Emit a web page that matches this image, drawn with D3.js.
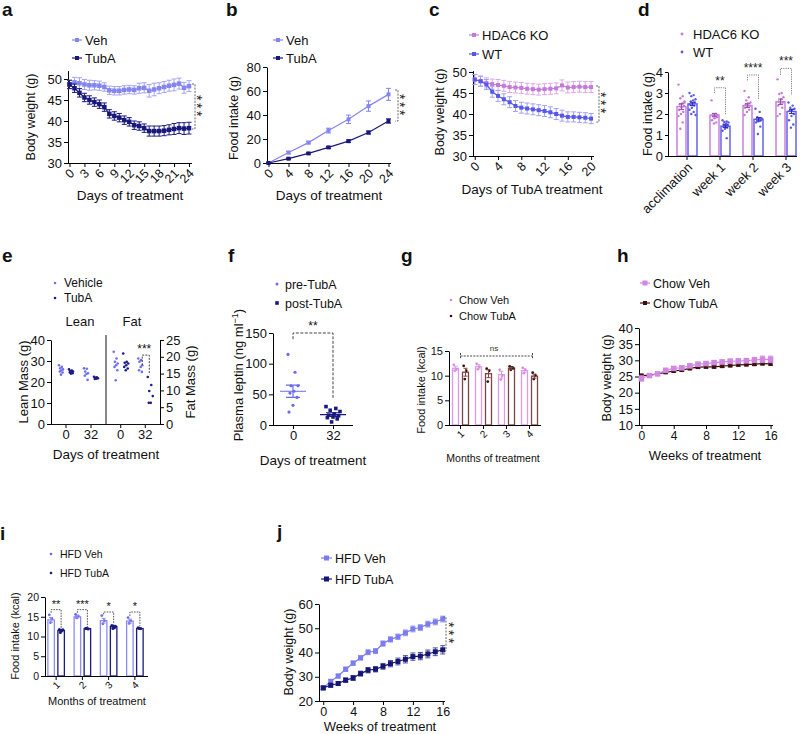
<!DOCTYPE html>
<html><head><meta charset="utf-8">
<script src="https://cdn.jsdelivr.net/npm/d3@7"></script>
<style>body{margin:0;background:#fff}svg{display:block}</style>
</head><body>
<script>
// ================= DATA =================
// a
const aDays = [0,1,2,3,4,5,6,7,8,9,10,11,12,13,14,15,16,17,18,19,20,21,22,23,24];
const aVeh = [48.7,49.2,49.0,48.7,48.5,48.5,48.4,48.1,47.3,47.2,47.2,47.4,47.5,47.4,47.8,47.9,47.2,47.5,47.8,48.1,48.4,48.6,48.9,47.9,48.3];
const aVehErr = [1.0,1.2,1.3,1.2,1.2,1.1,1.1,1.0,1.0,1.0,1.0,1.0,1.0,1.0,1.2,1.2,1.5,1.5,1.3,1.3,1.3,1.4,1.3,1.3,1.3];
const aTub = [48.7,47.8,46.7,45.6,45.0,44.5,44.0,43.3,41.7,41.2,40.8,40.2,39.8,39.0,38.8,38.3,37.6,37.6,37.6,37.7,37.9,38.1,38.3,38.2,38.3];
const aTubErr = [1.0,1.0,1.0,1.0,1.0,1.0,1.0,1.0,1.0,1.0,1.0,1.0,1.0,1.0,1.0,1.0,1.2,1.2,1.2,1.2,1.2,1.3,1.3,1.4,1.4];
const aXTicks = [0,3,6,9,12,15,18,21,24];
const aYTicks = [30,35,40,45,50];
// b
const bDays = [0,4,8,12,16,20,24];
const bVeh = [0,8.7,17,27,36.4,47.4,57.2];
const bVehErr = [0.3,1.0,1.0,2.0,3.5,4.3,5.0];
const bTub = [0,3.6,8,13,18.2,25.4,35];
const bTubErr = [0.2,0.5,0.6,0.8,1.0,1.2,1.8];
const bXTicks = [0,4,8,12,16,20,24];
const bYTicks = [0,20,40,60,80];
// c
const cDays = [0,1,2,3,4,5,6,7,8,9,10,11,12,13,14,15,16,17,18,19,20];
const cKO = [48.2,47.8,47.4,47.1,46.9,46.7,46.4,46.3,46.2,46.0,45.9,45.8,45.9,46.0,46.1,46.8,46.3,46.4,46.5,46.4,46.4];
const cKOErr = [1.2,1.2,1.2,1.2,1.3,1.3,1.3,1.3,1.3,1.3,1.3,1.3,1.3,1.3,1.3,1.3,1.3,1.3,1.3,1.3,1.3];
const cWT = [48.2,47.8,47.0,45.3,44.3,43.5,42.8,41.9,41.5,41.3,41.1,40.9,40.7,40.4,40.0,39.6,39.3,39.3,39.2,39.1,38.9];
const cWTErr = [1.2,1.2,1.2,1.3,1.3,1.3,1.3,1.3,1.3,1.3,1.3,1.3,1.3,1.3,1.3,1.3,1.2,1.2,1.2,1.2,1.2];
const cXTicks = [0,4,8,12,16,20];
const cYTicks = [30,35,40,45,50];
// d
const dGroups = ["acclimation","week 1","week 2","week 3"];
const dKO = [2.35,1.95,2.40,2.58];
const dKOErr = [0.14,0.08,0.09,0.13];
const dWT = [2.48,1.42,1.75,2.12];
const dWTErr = [0.08,0.06,0.08,0.10];
const dKOPts = [
  [3.4,2.85,2.75,2.6,2.5,2.45,2.4,2.3,2.2,2.1,2.0,1.9,1.6,1.3,2.55],
  [2.65,2.0,1.98,1.95,1.92,1.9,1.85,1.8,1.7,1.6,1.55],
  [3.1,2.8,2.65,2.55,2.5,2.45,2.4,2.35,2.3,2.2,2.1,1.95],
  [3.65,3.0,2.95,2.8,2.7,2.6,2.55,2.5,2.4,2.3,2.0,1.9]
];
const dWTPts = [
  [3.0,2.9,2.85,2.7,2.65,2.6,2.55,2.5,2.45,2.4,2.3,2.2,2.1,2.0,1.95],
  [1.7,1.65,1.62,1.6,1.55,1.5,1.48,1.45,1.4,1.35,1.3,1.2,0.85],
  [2.25,2.1,1.85,1.8,1.78,1.75,1.7,1.65,1.6,1.4,1.05],
  [2.55,2.4,2.3,2.25,2.2,2.15,2.0,1.9,1.7,1.5,1.35]
];
const dYTicks = [0,1,2,3,4];
const dSig = [
  {g:"week 1", label:"**",   top:3.25, l:3.0,  r:1.95},
  {g:"week 2", label:"****", top:3.86, l:3.6,  r:2.67},
  {g:"week 3", label:"***",  top:4.17, l:3.86, r:2.9}
];
// e
const eDays = ["0","32"];
const eLeanVeh = [[28,27.2,26.5,26,25.5,25,24.5,23.5],[26.5,26.3,25,24.2,23.8,23,21]];
const eLeanTub = [[26,25.5,25.2,25,24.8,24.5,24.2,24],[22.5,22.2,22,21.8,21.6,21.4]];
const eFatVeh = [[21.5,19.5,18.5,18,17.5,17,16,13],[19.5,19,18.5,17.5,17,16,15.5]];
const eFatTub = [[21,18.5,18.2,18,17.5,17,16.5,16],[14,11.6,9.8,8.3,6.3,6.3]];
const eLeanTicks = [0,10,20,30,40];
const eFatTicks = [0,5,10,15,20,25];
// f
const fDays = ["0","32"];
const fPre = [115,86,64,64,55,52,45,32,21];
const fPost = [30,27,24,22,18,16,15,13,12,10,5];
const fMean = [55,17];
const fSem = [10,3];
const fYTicks = [0,50,100,150];
// g
const gMonths = ["1","2","3","4"];
const gVeh = [11.5,11.8,10.2,11.0];
const gVehErr = [0.4,0.4,0.7,0.4];
const gTub = [10.7,10.4,11.5,9.9];
const gTubErr = [0.8,0.8,0.2,0.4];
const gVehPts = [[12.2,11.3,11.0],[12.4,11.8,11.3],[11.2,10.0,9.2],[11.6,11.2,10.5]];
const gTubPts = [[12.0,11.0,9.3],[11.4,11.0,8.8],[11.9,11.7,11.2,11.5],[10.6,10.1,9.3]];
const gYTicks = [0,5,10,15];
// h
const hWeeks = [0,1,2,3,4,5,6,7,8,9,10,11,12,13,14,15,16];
const hVeh = [24.4,25.3,25.8,26.9,27.5,27.7,28.3,28.8,29.0,29.3,29.5,29.7,29.8,29.9,30.1,30.3,30.3];
const hVehErr = [0.8,0.5,0.5,0.6,0.6,0.6,0.6,0.6,0.6,0.6,0.6,0.7,0.7,0.7,0.8,1.0,1.0];
const hTub = [25.3,25.4,25.8,26.3,26.7,27.0,27.5,27.9,28.0,28.0,28.2,28.4,28.6,28.7,28.8,29.0,28.9];
const hTubErr = [0.4,0.4,0.4,0.4,0.4,0.4,0.4,0.4,0.4,0.4,0.4,0.4,0.4,0.4,0.4,0.4,0.4];
const hXTicks = [0,4,8,12,16];
const hYTicks = [10,15,20,25,30,35,40];
// i
const iMonths = ["1","2","3","4"];
const iVeh = [14.2,15.0,14.0,13.9];
const iVehErr = [0.6,0.3,0.6,0.5];
const iTub = [11.5,12.0,12.5,12.0];
const iTubErr = [0.3,0.1,0.3,0.1];
const iVehPts = [[15.5,14.5,13.5],[15.6,15.2,14.7],[15.3,14.0,13.2],[14.8,14.0,13.3]];
const iTubPts = [[11.8,11.5,11.0,11.7],[12.0,11.9,12.1],[12.8,12.2,12.0,12.6],[12.2,12.0,12.1]];
const iYTicks = [0,5,10,15,20];
const iSig = [
  {g:"1", label:"**",  top:16.8, l:16.0, r:12.2},
  {g:"2", label:"***", top:16.8, l:16.0, r:12.4},
  {g:"3", label:"*",   top:16.2, l:15.6, r:13.0},
  {g:"4", label:"*",   top:16.2, l:15.2, r:12.6}
];
// j
const jWeeks = [0,1,2,3,4,5,6,7,8,9,10,11,12,13,14,15,16];
const jVeh = [25.4,28.1,30.3,33.1,35.6,37.8,40.1,40.6,43.7,45.4,46.5,48.1,49.7,50.3,51.7,52.6,53.8];
const jVehErr = [0.7,0.8,0.8,0.9,0.9,0.9,1.0,1.0,1.1,1.1,1.1,1.2,1.2,1.2,1.2,1.2,1.2];
const jTub = [25.4,26.5,27.2,28.6,29.5,31.3,32.7,33.1,34.3,35.4,36.3,37.2,38.3,38.5,39.4,40.3,41.1];
const jTubErr = [0.7,0.8,0.8,0.9,1.0,1.0,1.1,1.1,1.2,1.3,1.4,1.5,1.5,1.5,1.6,1.6,1.7];
const jXTicks = [0,4,8,12,16];
const jYTicks = [20,30,40,50,60];

// ================= STYLE =================
const FONT = "'Liberation Sans', Arial, Helvetica, sans-serif";
const C = {
  veh:"#8585f2", tub:"#18187c", ko:"#c47ad8", wt:"#5858e8",
  eVeh:"#6f6ff0", eTub:"#1c1c88", cveh:"#d088e0", ctub:"#3d0f0f", ctubBar:"#7d4545", cvehBar:"#dc9ae8",
  iVehBar:"#8c8cf5"
};
const intFmt = d3.format("~g");

const svg = d3.select("body").append("svg").attr("width",800).attr("height",734).style("font-family",FONT);
svg.append("rect").attr("width",800).attr("height",734).attr("fill","#fff");

function text(x,y,s,o={}) {
  const t = svg.append("text").attr("x",x).attr("y",y).text(s)
    .attr("font-size",o.fs||13).attr("text-anchor",o.anchor||"start").attr("fill",o.fill||"#111");
  if(o.bold) t.attr("font-weight","bold");
  if(o.ls!=null) t.attr("letter-spacing",o.ls);
  if(o.rot!=null) t.attr("transform",`rotate(${o.rot},${x},${y})`);
  return t;
}
function yAxis(scale, x, ticks, fs, right, pad, size) {
  const ax = (right?d3.axisRight(scale):d3.axisLeft(scale)).tickValues(ticks).tickFormat(intFmt)
    .tickSize(size!=null?size:4).tickSizeOuter(0).tickPadding(pad!=null?pad:2);
  const g = svg.append("g").attr("transform",`translate(${x},0)`).call(ax);
  g.attr("font-family",FONT).attr("font-size",fs);
  g.selectAll("text").attr("fill","#111");
  return g;
}
function xAxis(scale, y, ticks, fs, from, to, rotate) {
  const ax = d3.axisBottom(scale).tickSize(4).tickSizeOuter(0).tickPadding(2);
  if (ticks) ax.tickValues(ticks).tickFormat(intFmt);
  const g = svg.append("g").attr("transform",`translate(0,${y})`).call(ax);
  g.attr("font-family",FONT).attr("font-size",fs);
  g.selectAll("text").attr("fill","#111");
  if(from!=null) g.select(".domain").attr("d",`M${from},0.5H${to}`);
  if(rotate) g.selectAll(".tick text").attr("text-anchor","end").attr("y",0).attr("x",0).attr("dy","0.35em")
      .attr("transform",`translate(${rotate[0]},${rotate[1]}) rotate(-45)`);
  return g;
}
function errBars(x, y, xs, ys, errs, color, cap, w) {
  svg.append("g").selectAll("path").data(xs.map((d,i)=>[d,ys[i],errs[i]])).join("path")
    .attr("d", d=>{const cx=x(d[0]), y1=y(d[1]-d[2]), y2=y(d[1]+d[2]);
      return `M${cx},${y1}V${y2}M${cx-cap},${y1}H${cx+cap}M${cx-cap},${y2}H${cx+cap}`;})
    .attr("stroke",color).attr("stroke-width",w||1).attr("fill","none");
}
function lineSeries(x, y, xs, ys, errs, color, o={}) {
  errBars(x,y,xs,ys,errs,o.errColor||color,o.cap||2.5,1);
  svg.append("path").datum(xs.map((d,i)=>[d,ys[i]]))
    .attr("d", d3.line().x(d=>x(d[0])).y(d=>y(d[1])))
    .attr("stroke",color).attr("fill","none").attr("stroke-width",o.lw||1.2);
  const s = o.ms||4;
  svg.append("g").selectAll("rect").data(xs.map((d,i)=>[d,ys[i]])).join("rect")
    .attr("x",d=>x(d[0])-s/2).attr("y",d=>y(d[1])-s/2).attr("width",s).attr("height",s).attr("fill",color);
}
function legLine(x, y, label, color, fs, ms, len) {
  len = len||10; ms = ms||4;
  svg.append("line").attr("x1",x).attr("x2",x+len).attr("y1",y).attr("y2",y).attr("stroke",color).attr("stroke-width",1.2);
  svg.append("rect").attr("x",x+len/2-ms/2).attr("y",y-ms/2).attr("width",ms).attr("height",ms).attr("fill",color);
  text(x+len+3, y+fs*0.36, label, {fs});
}
function legDot(x, y, label, color, fs, r, square, tx) {
  r = r||1.4;
  if (square) svg.append("rect").attr("x",x-r).attr("y",y-r).attr("width",2*r).attr("height",2*r).attr("fill",color);
  else svg.append("circle").attr("cx",x).attr("cy",y).attr("r",r).attr("fill",color);
  text(tx!=null?tx:x+8, y+fs*0.36, label, {fs});
}
function stars(x, yc, n, fs) {
  text(x - fs*0.58, yc, "*".repeat(n), {fs, anchor:"middle", rot:90, ls:2.5, fill:"#222"});
}
function vBracket(x, y1, y2) {
  svg.append("path").attr("d",`M${x-3},${y1}H${x}V${y2}H${x-3}`).attr("fill","none")
    .attr("stroke","#666").attr("stroke-width",1).attr("stroke-dasharray","2,1.3");
}
function jit(i, spread) { return (((i*7)%11)-5)/5*spread; }
function dots(xc, vals, y, color, r, spread, square) {
  const g = svg.append("g");
  vals.forEach((v,i)=>{
    const cx = xc + jit(i,spread);
    if (square) g.append("rect").attr("x",cx-r).attr("y",y(v)-r).attr("width",2*r).attr("height",2*r).attr("fill",color);
    else g.append("circle").attr("cx",cx).attr("cy",y(v)).attr("r",r).attr("fill",color);
  });
}
function bar(xc, w, val, err, y, stroke, sw) {
  svg.append("rect").attr("x",xc-w/2).attr("y",y(val)).attr("width",w).attr("height",y(0)-y(val))
    .attr("fill","#fff").attr("fill-opacity",0.85).attr("stroke",stroke).attr("stroke-width",sw||1.3);
}
function barErr(xc, val, err, y, color, cap) {
  svg.append("path").attr("d",`M${xc},${y(val-err)}V${y(val+err)}M${xc-cap},${y(val-err)}H${xc+cap}M${xc-cap},${y(val+err)}H${xc+cap}`)
    .attr("stroke",color).attr("stroke-width",1).attr("fill","none");
}

// ================= PANEL a =================
{
  text(2,16,"a",{fs:19,bold:true});
  legLine(72,40,"Veh",C.veh,13);
  legLine(72,58,"TubA",C.tub,13);
  const x = d3.scaleLinear([-0.3,24.6],[68,192]);
  const y = d3.scaleLinear([30,52],[163,70.6]);
  yAxis(y,68,aYTicks,13);
  xAxis(x,163,aXTicks,12.5,68,192,[2,8]);
  lineSeries(x,y,aDays,aVeh,aVehErr,C.veh,{errColor:"#a3a3f5",ms:4.5});
  lineSeries(x,y,aDays,aTub,aTubErr,C.tub,{ms:4.5});
  vBracket(195,84,129);
  stars(200,107,3,14);
  text(35,117,"Body weight (g)",{fs:12.5,anchor:"middle",rot:-90});
  text(130,200,"Days of treatment",{fs:13.5,anchor:"middle"});
}
// ================= PANEL b =================
{
  text(226,16,"b",{fs:19,bold:true});
  legLine(273,40,"Veh",C.veh,13);
  legLine(273,58,"TubA",C.tub,13);
  const x = d3.scaleLinear([-0.3,24.5],[267,391]);
  const y = d3.scaleLinear([0,80],[163,67]);
  yAxis(y,267,bYTicks,13);
  xAxis(x,163,bXTicks,12.5,267,391,[2,8]);
  lineSeries(x,y,bDays,bVeh,bVehErr,C.veh,{ms:4});
  lineSeries(x,y,bDays,bTub,bTubErr,C.tub,{ms:4});
  vBracket(398,90,121);
  stars(403,106,3,14);
  text(238,118,"Food intake (g)",{fs:12.5,anchor:"middle",rot:-90});
  text(329,200,"Days of treatment",{fs:13.5,anchor:"middle"});
}
// ================= PANEL c =================
{
  text(429,16,"c",{fs:19,bold:true});
  legLine(469,35,"HDAC6 KO",C.ko,13);
  legLine(469,54,"WT",C.wt,13);
  const x = d3.scaleLinear([-0.3,20.5],[473,594]);
  const y = d3.scaleLinear([30,50.3],[156,70.7]);
  yAxis(y,473,cYTicks,13);
  xAxis(x,156,cXTicks,12.5,473,594,[2,8]);
  lineSeries(x,y,cDays,cKO,cKOErr,C.ko,{errColor:"#dba8e8",ms:4});
  lineSeries(x,y,cDays,cWT,cWTErr,C.wt,{errColor:"#a0a0f2",ms:4});
  vBracket(599,86,122);
  stars(604,104,3,14);
  text(444,112,"Body weight (g)",{fs:12.5,anchor:"middle",rot:-90});
  text(532,194,"Days of TubA treatment",{fs:13.5,anchor:"middle"});
}
// ================= PANEL d =================
{
  text(638,16,"d",{fs:19,bold:true});
  legDot(682,34,"HDAC6 KO",C.ko,13,1.4,false,693);
  legDot(682,52,"WT",C.wt,13,1.4,false,693);
  const xb = d3.scaleBand(dGroups,[670.5,802.5]);
  const y = d3.scaleLinear([0,4],[156,72]);
  const cx = g => xb(g)+xb.bandwidth()/2;
  dGroups.forEach((g,i)=>{
    bar(cx(g)-5.5,9,dKO[i],dKOErr[i],y,C.ko,1.4);
    bar(cx(g)+5.5,9,dWT[i],dWTErr[i],y,C.wt,1.4);
    dots(cx(g)-5.5,dKOPts[i],y,C.ko,1.2,3);
    dots(cx(g)+5.5,dWTPts[i],y,C.wt,1.2,3);
    barErr(cx(g)-5.5,dKO[i],dKOErr[i],y,"#9a4fb0",2.5);
    barErr(cx(g)+5.5,dWT[i],dWTErr[i],y,"#2b2bb0",2.5);
  });
  yAxis(y,668,dYTicks,13,false,2,3);
  xAxis(xb,156,null,13,668,797,[3,9]);
  dSig.forEach(s=>{
    const x1 = cx(s.g)-5.5, x2 = cx(s.g)+5.5;
    svg.append("path").attr("d",`M${x1},${y(s.l)}V${y(s.top)}H${x2}V${y(s.r)}`).attr("fill","none")
      .attr("stroke","#888").attr("stroke-width",1).attr("stroke-dasharray","1.3,1");
    text((x1+x2)/2,y(s.top)-3,s.label,{fs:12,anchor:"middle",fill:"#222"});
  });
  text(652,114,"Food intake (g)",{fs:12.5,anchor:"middle",rot:-90});
}
// ================= PANEL e =================
{
  text(2,262,"e",{fs:19,bold:true});
  legDot(55,283,"Vehicle",C.eVeh,12,1.3,false,64);
  legDot(55,298,"TubA",C.eTub,12,1.3,false,64);
  text(80,326,"Lean",{fs:13,anchor:"middle"});
  text(132,326,"Fat",{fs:13,anchor:"middle"});
  const yl = d3.scaleLinear([0,40],[424,340]);
  const yf = d3.scaleLinear([0,25],[424,340]);
  const xl = d3.scaleBand(eDays,[51,106]).paddingOuter(0.1);
  const xf = d3.scaleBand(eDays,[106,160]).paddingOuter(0.1);
  const c = (s,d)=>s(d)+s.bandwidth()/2;
  eDays.forEach((d,i)=>{
    dots(c(xl,d)-5,eLeanVeh[i],yl,C.eVeh,1.3,2);
    dots(c(xl,d)+5,eLeanTub[i],yl,C.eTub,1.3,2);
    dots(c(xf,d)-5,eFatVeh[i],yf,C.eVeh,1.3,2);
    dots(c(xf,d)+5,eFatTub[i],yf,C.eTub,1.3,2.5);
  });
  yAxis(yl,51,eLeanTicks,13);
  yAxis(yf,160,eFatTicks,13,true);
  svg.append("line").attr("x1",106).attr("x2",106).attr("y1",335).attr("y2",424).attr("stroke","#111");
  const axl = d3.axisBottom(xl).tickSize(4).tickSizeOuter(0).tickPadding(2);
  const axf = d3.axisBottom(xf).tickSize(4).tickSizeOuter(0).tickPadding(2);
  [axl,axf].forEach(ax=>{
    const g = svg.append("g").attr("transform","translate(0,424)").call(ax).attr("font-family",FONT).attr("font-size",13);
    g.select(".domain").remove();
    g.selectAll("text").attr("fill","#111");
  });
  svg.append("line").attr("x1",51).attr("x2",160).attr("y1",424.5).attr("y2",424.5).attr("stroke","#111");
  const bx1 = c(xf,"32")-3, bx2 = c(xf,"32")+4;
  svg.append("path").attr("d",`M${bx1},${yf(17.5)}V${yf(20.5)}H${bx2}V${yf(15)}`).attr("fill","none")
    .attr("stroke","#444").attr("stroke-width",1).attr("stroke-dasharray","2,1.3");
  text(c(xf,"32")-1,yf(20.5)-2,"***",{fs:12,anchor:"middle"});
  text(28,382,"Lean Mass (g)",{fs:13,anchor:"middle",rot:-90});
  text(195,382,"Fat Mass (g)",{fs:13,anchor:"middle",rot:-90});
  text(106,459,"Days of treatment",{fs:13.5,anchor:"middle"});
}
// ================= PANEL f =================
{
  text(228,262,"f",{fs:19,bold:true});
  legDot(277,284,"pre-TubA","#6a6aee",12.5,1.5,false,285);
  legDot(277,303,"post-TubA","#1a1a80",12.5,1.8,true,285);
  const x = d3.scalePoint(fDays,[273,353]).padding(0.5);
  const y = d3.scaleLinear([0,150],[425,333]);
  dots(x("0"),fPre,y,"#6a6aee",1.6,5);
  dots(x("32"),fPost,y,"#1a1a80",1.8,7,true);
  const cols = ["#6a6aee","#1a1a80"];
  fDays.forEach((d,i)=>{
    const cx=x(d);
    svg.append("path").attr("d",`M${cx-13},${y(fMean[i])}H${cx+13}M${cx},${y(fMean[i]-fSem[i])}V${y(fMean[i]+fSem[i])}M${cx-7},${y(fMean[i]-fSem[i])}H${cx+7}M${cx-7},${y(fMean[i]+fSem[i])}H${cx+7}`)
      .attr("stroke",cols[i]).attr("stroke-width",1.2).attr("fill","none");
  });
  yAxis(y,273,fYTicks,13);
  xAxis(x,425,null,13,273,353,null);
  svg.append("path").attr("d",`M${x("0")},${y(140)}V${y(150)}H${x("32")}V${y(43)}`).attr("fill","none")
    .attr("stroke","#444").attr("stroke-width",1).attr("stroke-dasharray","3,1.5");
  text((x("0")+x("32"))/2,y(150)-3,"**",{fs:12,anchor:"middle"});
  const yl = text(243,375,"Plasma leptin (ng ml",{fs:13,anchor:"middle",rot:-90});
  yl.append("tspan").text("−1").attr("font-size",9).attr("dy",-5);
  yl.append("tspan").text(")").attr("dy",5).attr("font-size",13);
  text(313,465,"Days of treatment",{fs:13.5,anchor:"middle"});
}
// ================= PANEL g =================
{
  text(401,262,"g",{fs:19,bold:true});
  legDot(451,300,"Chow Veh",C.cveh,11,1.3,false,459);
  legDot(451,316,"Chow TubA",C.ctub,11,1.3,false,459);
  const xb = d3.scaleBand(gMonths,[449,541]);
  const y = d3.scaleLinear([0,15],[425,351]);
  const cx = g => xb(g)+xb.bandwidth()/2;
  gMonths.forEach((m,i)=>{
    bar(cx(m)-5,6,gVeh[i],gVehErr[i],y,C.cvehBar,1.3);
    bar(cx(m)+5,6,gTub[i],gTubErr[i],y,C.ctubBar,1.3);
    dots(cx(m)-5,gVehPts[i],y,C.cveh,1.3,1.8);
    dots(cx(m)+5,gTubPts[i],y,C.ctub,1.4,1.8);
    barErr(cx(m)-5,gVeh[i],gVehErr[i],y,C.cvehBar,2);
    barErr(cx(m)+5,gTub[i],gTubErr[i],y,C.ctubBar,2);
  });
  yAxis(y,449,gYTicks,11);
  xAxis(xb,425,null,10,449,541,[2,7]);
  svg.append("path").attr("d",`M${cx("1")},353V359M${cx("1")},356H${cx("4")+3}M${cx("4")+3},353V359`)
    .attr("stroke","#333").attr("stroke-width",0.9).attr("stroke-dasharray","2,1.2").attr("fill","none");
  text(494,351,"ns",{fs:8,anchor:"middle",fill:"#333"});
  text(425,390,"Food intake (kcal)",{fs:11,anchor:"middle",rot:-90});
  text(493,462,"Months of treatment",{fs:10.5,anchor:"middle"});
}
// ================= PANEL h =================
{
  text(617,262,"h",{fs:19,bold:true});
  legLine(640,283,"Chow Veh",C.cveh,12.5,5);
  legLine(640,303,"Chow TubA",C.ctub,12.5,4);
  const x = d3.scaleLinear([-0.3,16.3],[639,773]);
  const y = d3.scaleLinear([10,40],[425,328]);
  yAxis(y,639,hYTicks,13);
  xAxis(x,425,hXTicks,12,639,773,null);
  lineSeries(x,y,hWeeks,hTub,hTubErr,C.ctub,{ms:4});
  lineSeries(x,y,hWeeks,hVeh,hVehErr,C.cveh,{ms:5.5});
  text(611,378,"Body weight (g)",{fs:12.5,anchor:"middle",rot:-90});
  text(705,460,"Weeks of treatment",{fs:13,anchor:"middle"});
}
// ================= PANEL i =================
{
  text(0,540,"i",{fs:19,bold:true});
  legDot(51,554,"HFD Veh","#6a6aee",10.5,1.3,false,60);
  legDot(51,573,"HFD TubA","#1a1a80",10.5,1.3,false,60);
  const xb = d3.scaleBand(iMonths,[43,148]);
  const y = d3.scaleLinear([0,20],[676,597]);
  const cx = g => xb(g)+xb.bandwidth()/2;
  iMonths.forEach((m,i)=>{
    bar(cx(m)-5,6.5,iVeh[i],iVehErr[i],y,C.iVehBar,1.3);
    bar(cx(m)+5,6.5,iTub[i],iTubErr[i],y,"#1a1a80",1.3);
    dots(cx(m)-5,iVehPts[i],y,"#6a6aee",1.4,1.8);
    dots(cx(m)+5,iTubPts[i],y,"#1a1a80",1.5,1.8);
    barErr(cx(m)-5,iVeh[i],iVehErr[i],y,C.iVehBar,2);
    barErr(cx(m)+5,iTub[i],iTubErr[i],y,"#1a1a80",2);
  });
  yAxis(y,45,iYTicks,10.5);
  xAxis(xb,676,null,10,45,148,[2,7]);
  iSig.forEach(s=>{
    const x1=cx(s.g)-5, x2=cx(s.g)+5;
    svg.append("path").attr("d",`M${x1},${y(s.l)}V${y(s.top)}H${x2}V${y(s.r)}`).attr("fill","none")
      .attr("stroke","#444").attr("stroke-width",0.9).attr("stroke-dasharray","1.6,1.1");
    text((x1+x2)/2,y(s.top)-2,s.label,{fs:11,anchor:"middle"});
  });
  text(19,636,"Food intake (kcal)",{fs:11,anchor:"middle",rot:-90});
  text(97,705,"Months of treatment",{fs:11,anchor:"middle"});
}
// ================= PANEL j =================
{
  text(277,538,"j",{fs:19,bold:true});
  legLine(321,558,"HFD Veh","#7b7bf2",12.5,5,11);
  legLine(321,579,"HFD TubA","#151575",12.5,5,11);
  const x = d3.scaleLinear([-0.3,16.3],[321,445]);
  const y = d3.scaleLinear([20,60],[701,604]);
  yAxis(y,319,jYTicks,13);
  xAxis(x,701,jXTicks,12.5,319,445,null);
  lineSeries(x,y,jWeeks,jVeh,jVehErr,"#7b7bf2",{ms:5,errColor:"#9d9df5"});
  lineSeries(x,y,jWeeks,jTub,jTubErr,"#151575",{ms:5,errColor:"#4d4d9a"});
  vBracket(446,617,651);
  stars(452,634,3,14);
  text(293,652,"Body weight (g)",{fs:12.5,anchor:"middle",rot:-90});
  text(380,731,"Weeks of treatment",{fs:13,anchor:"middle"});
}
</script>
</body></html>
